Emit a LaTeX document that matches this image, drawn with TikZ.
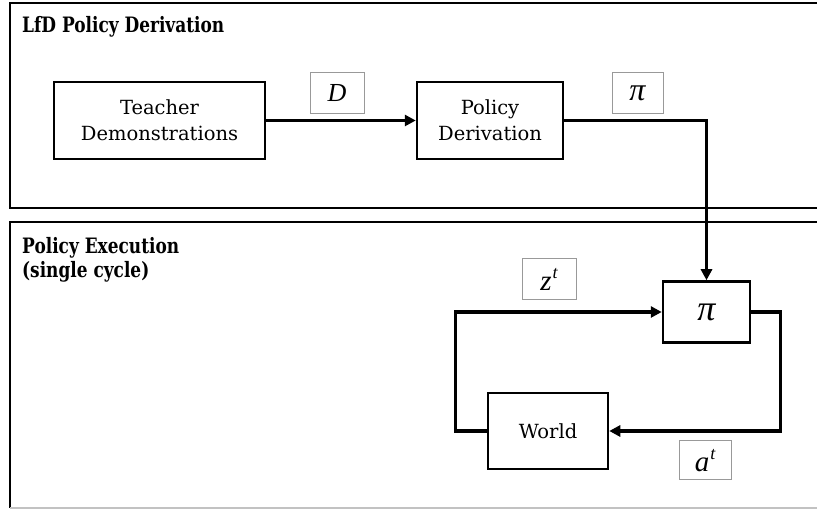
\documentclass[tikz,border=0pt]{standalone}
\usepackage{fontspec}
\setmainfont{DejaVu Serif}
\newfontfamily\headfont{DejaVu Serif}[FakeStretch=0.8]
\newfontfamily\symfont{Liberation Serif}
\usetikzlibrary{arrows.meta}

\definecolor{labelgray}{gray}{0.6}

% italic symbol with an optional raised index
\newcommand{\symb}[1]{{\symfont\itshape #1}}
\newcommand{\symidx}[2]{{\symfont\itshape #1\raisebox{0.4em}{\fontsize{18}{18}\selectfont\kern1pt #2}}}

\tikzset{
  panel/.style={draw=black, line width=2pt},
  block/.style={draw=black, line width=2.5pt, fill=white, align=center,
    inner sep=0pt, font=\fontsize{19.5}{26}\selectfont},
  sym/.style={draw=labelgray, line width=1pt, fill=white, inner sep=0pt,
    font=\fontsize{26}{26}\selectfont},
  flow/.style={line width=3.2pt, -{Triangle[length=11pt,width=11pt]}},
  heading/.style={font=\headfont\bfseries\fontsize{21.2}{24}\selectfont,
    align=left, inner sep=0pt},
}

\begin{document}
\begin{tikzpicture}[x=1pt,y=-1pt]
  \clip (0,0) rectangle (817,510);
  \fill[white] (0,0) rectangle (817,510);

  % the two panels, running off past the right edge
  \draw[panel] (10,3) rectangle (850,208);
  \draw[panel] (850,222) -- (10,222) -- (10,508);
  \draw[labelgray!60, line width=1.5pt] (10,508) -- (850,508);

  % panel headings
  \node[heading, anchor=base west] (h1) at (22,33) {LfD Policy Derivation};
  \node[heading, anchor=north west] (h2) at (22,237) {Policy Execution\\(single cycle)};

  % derivation stage
  \node[block, minimum width=211pt, minimum height=77pt] (teach) at (159.5,120.5)
    {Teacher\\Demonstrations};
  \node[block, minimum width=146pt, minimum height=77pt] (deriv) at (490,120.5)
    {Policy\\Derivation};
  \node[sym, minimum width=54pt, minimum height=41pt] (lD) at (337,93.5) {\symb{D}};
  \node[sym, minimum width=51pt, minimum height=41pt,
        font=\fontsize{32}{32}\selectfont] (lpi) at (637.5,93) {\symb{π}};

  % execution loop
  \node[block, minimum width=87pt, minimum height=61pt,
        font=\fontsize{36}{36}\selectfont] (pol) at (706.5,312) {\symb{π}};
  \node[block, minimum width=120pt, minimum height=76pt] (world) at (548,431) {World};
  \node[sym, minimum width=54pt, minimum height=41pt,
        font=\fontsize{29}{29}\selectfont] (lz) at (549,279.5) {\symidx{z}{t}};
  \node[sym, minimum width=52pt, minimum height=39pt,
        font=\fontsize{29}{29}\selectfont] (la) at (705,460.5) {\symidx{a}{t}};

  % connectors
  \draw[flow] (teach.east) -- (deriv.west);
  \draw[flow] (deriv.east) -| (pol.north);
  \draw[flow] (world.west) -- ++(-31,0) |- (pol.west);
  \draw[flow] (pol.east) -- ++(29,0) |- (world.east);
\end{tikzpicture}
\end{document}
